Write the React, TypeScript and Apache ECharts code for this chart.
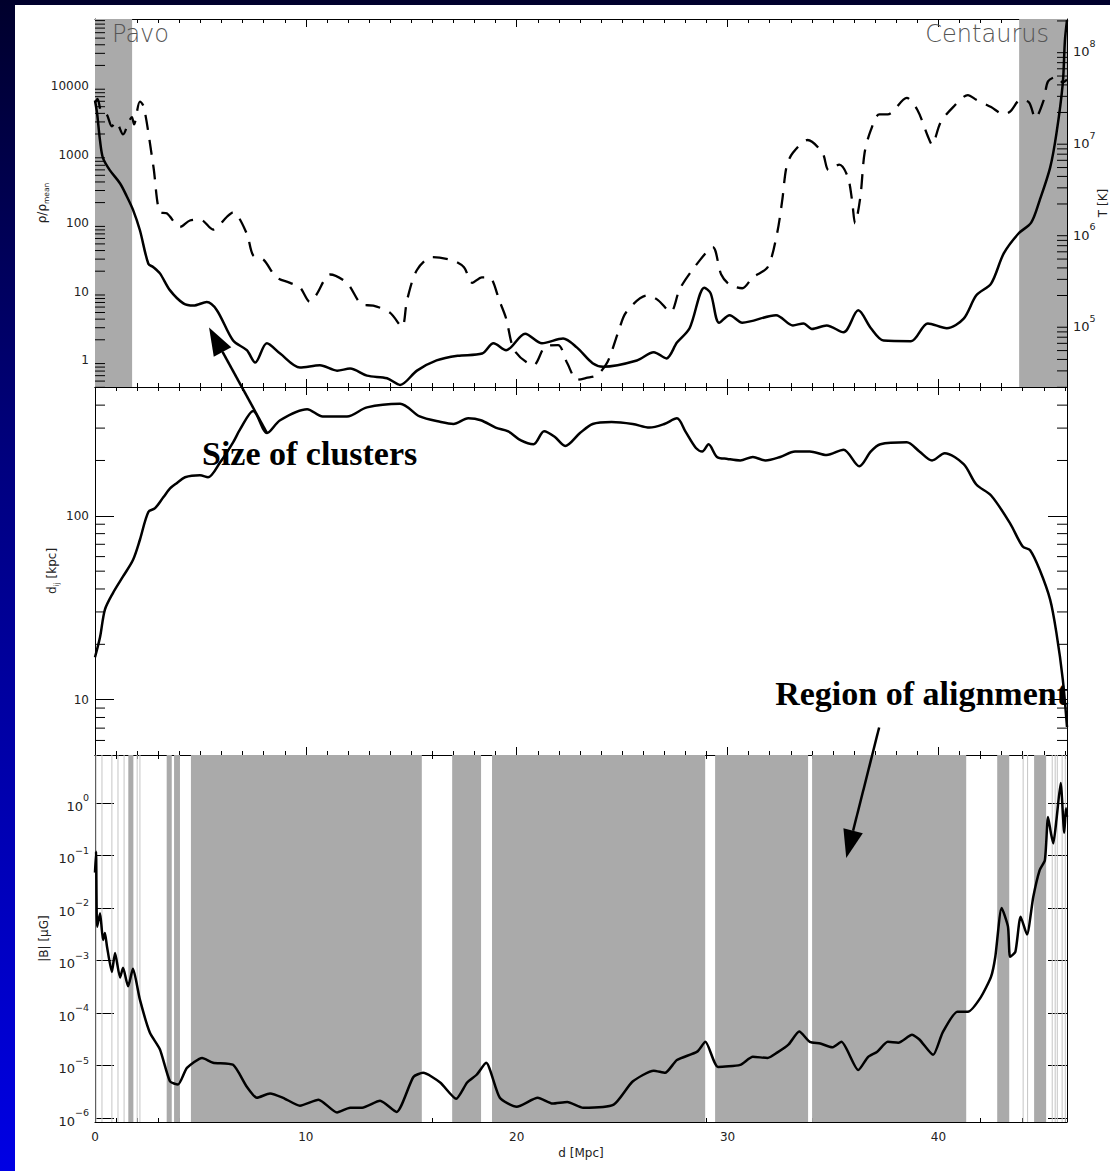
import React, { useEffect, useRef } from "react";
import * as echarts from "echarts";

// ---------- data ----------
const X_MAX = 46.1;
const xLabelStep = 10;

const densityD = [0,0.1,0.24,0.38,0.71,1.19,1.5,1.8,2.13,2.53,2.77,3.08,3.56,4.19,4.67,5.3,5.78,6.55,7.2,7.6,8.15,8.78,9.72,10.67,11.48,12.1,12.9,13.85,14.47,15.27,16.2,17.2,18.36,18.9,19.5,20.4,21.2,22.2,22.85,23.6,24.1,25.7,26.5,27.1,27.6,28.2,28.9,29.2,29.6,30.1,30.7,32.3,33.1,33.6,34.0,34.7,35.5,36.2,36.8,37.4,38.7,39.5,40.4,41.2,41.8,42.5,43.1,43.8,44.4,44.8,45.3,45.6,45.9,46.0,46.1];
const densityVal = [6170,3980,1585,890,590,380,250,158,79,25.7,22.9,18.6,10.5,6.8,6.3,7.1,5.4,1.95,1.41,0.93,1.78,1.26,0.79,0.85,0.71,0.76,0.6,0.55,0.44,0.71,1.0,1.17,1.26,1.78,1.41,2.45,1.78,2.09,1.55,0.91,0.81,1.0,1.32,1.07,1.82,2.95,11.5,9.5,3.55,4.57,3.55,4.57,3.24,3.47,2.88,3.24,2.57,5.37,2.95,1.95,1.91,3.47,2.95,4.07,8.9,13.2,36.3,70.8,102,214,646,2040,10960,45700,91200];

const tempD = [0,0.12,0.3,0.55,0.8,1.0,1.33,1.6,1.75,1.85,2.13,2.32,2.77,3.08,3.4,4.03,4.5,5.0,5.6,6.26,6.55,7.2,7.5,8.0,8.6,9.25,9.72,10.2,10.5,11.15,11.95,12.7,13.2,14.0,14.56,14.8,15.27,16.0,17.0,17.5,17.9,18.35,18.7,19.2,19.5,19.9,20.8,21.35,21.96,22.4,22.87,23.3,23.8,24.3,24.8,25.2,26.2,26.7,27.3,27.75,28.7,29.3,29.7,30.1,30.7,31.2,31.9,32.35,32.6,32.8,33.1,33.8,34.5,34.8,35.3,35.7,35.9,36.05,36.3,36.5,36.8,37.2,37.6,38.5,39.0,39.5,39.7,40.1,40.7,41.4,41.8,42.5,43.1,43.4,43.9,44.3,44.6,45.0,45.2,45.6,45.9,46.1];
const tempVal = [2.57e7,2.82e7,2.0e7,1.91e7,1.41e7,1.58e7,1.15e7,1.58e7,1.78e7,1.48e7,2.63e7,2.29e7,5.13e6,1.62e6,1.58e6,1.12e6,1.32e6,1.35e6,1.05e6,1.45e6,1.62e6,9.5e5,5.5e5,4.9e5,3.16e5,2.75e5,2.45e5,1.7e5,2.04e5,3.39e5,2.75e5,1.58e5,1.55e5,1.29e5,9.1e4,1.78e5,3.8e5,5.25e5,4.8e5,4.07e5,2.75e5,3.16e5,3.16e5,1.7e5,1.12e5,5.0e4,3.47e4,5.5e4,5.75e4,3.63e4,2.4e4,2.51e4,2.69e4,3.72e4,7.76e4,1.32e5,2.0e5,1.78e5,1.32e5,2.4e5,4.9e5,6.76e5,3.39e5,2.63e5,2.4e5,3.16e5,4.07e5,9.55e5,2.24e6,5.13e6,7.24e6,1.0e7,7.24e6,4.68e6,5.37e6,3.98e6,2.24e6,1.23e6,2.4e6,7.24e6,1.29e7,1.91e7,1.91e7,2.88e7,2.14e7,1.1e7,8.9e6,1.55e7,2.29e7,3.09e7,2.75e7,2.29e7,1.91e7,2.04e7,2.75e7,2.57e7,1.74e7,2.75e7,4.37e7,4.9e7,4.27e7,4.57e7];

const sizeD = [0,0.24,0.47,0.85,1.33,1.8,2.13,2.53,2.85,3.24,3.56,3.89,4.27,4.98,5.36,5.93,6.55,6.88,7.5,8.16,8.78,10.06,10.8,11.95,12.9,14.47,15.4,16.4,17.0,17.7,18.3,19.0,19.6,20.2,20.8,21.3,21.8,22.3,23.0,23.6,24.5,25.5,26.3,27.0,27.6,28.0,28.5,28.8,29.1,29.5,30.0,30.6,31.2,31.8,32.5,33.2,33.9,34.7,35.5,36.25,36.8,37.25,38.5,39.1,39.7,40.3,41.2,41.8,42.5,43.4,44.0,44.35,44.8,45.3,45.6,45.9,46.1];
const sizeVal = [17.0,21.9,30.9,38.0,46.8,57.5,74.1,105,110,126,141,151,162,166,162,195,251,295,372,282,331,380,347,347,389,407,347,324,316,339,331,302,288,257,245,288,269,240,282,316,324,316,302,316,339,288,234,224,245,209,204,200,209,200,209,224,224,214,229,186,224,245,251,224,200,219,191,148,129,91,68,65,51,35,23,12.9,7.1];

const fieldD = [0,0.05,0.1,0.24,0.38,0.47,0.57,0.8,0.95,1.19,1.33,1.57,1.8,2.13,2.6,3.08,3.56,3.94,4.36,5.08,5.6,6.55,7.2,7.68,8.3,8.92,9.72,10.6,11.48,12.1,12.67,13.52,14.3,15.1,15.56,16.37,17.13,17.65,18.1,18.55,19.2,20.0,21.0,21.7,22.4,23.15,24.6,25.5,26.5,27.04,27.6,28.56,28.95,29.55,30.6,31.2,31.9,32.35,32.9,33.4,33.9,34.4,34.96,35.4,36.2,36.67,37.1,37.6,38.1,38.75,39.1,39.75,40.2,40.9,41.4,42.0,42.5,42.7,43.0,43.3,43.4,43.65,43.9,44.2,44.5,44.8,45.05,45.2,45.35,45.45,45.6,45.8,45.97,46.05,46.1];
const fieldVal = [0.047,0.117,0.00437,0.00794,0.00245,0.00331,0.00182,6.0e-4,1.38e-3,4.7e-4,7.2e-4,3.2e-4,6.9e-4,1.78e-4,4.2e-5,2.0e-5,4.9e-6,4.3e-6,8.9e-6,1.38e-5,1.12e-5,1.02e-5,3.9e-6,2.4e-6,2.9e-6,2.4e-6,1.7e-6,2.2e-6,1.26e-6,1.55e-6,1.55e-6,2.1e-6,1.29e-6,6.0e-6,7.2e-6,4.7e-6,2.3e-6,4.7e-6,6.6e-6,1.12e-5,2.4e-6,1.62e-6,2.4e-6,1.86e-6,2.0e-6,1.55e-6,1.78e-6,4.9e-6,7.9e-6,7.2e-6,1.26e-5,1.82e-5,2.8e-5,9.3e-6,1.02e-5,1.45e-5,1.38e-5,1.74e-5,2.5e-5,4.4e-5,2.8e-5,2.6e-5,2.2e-5,2.8e-5,8.1e-6,1.45e-5,1.82e-5,2.8e-5,2.7e-5,3.8e-5,3.1e-5,1.58e-5,4.2e-5,1.05e-4,1.05e-4,1.95e-4,4.9e-4,1.17e-3,1.0e-2,4.4e-3,1.17e-3,1.45e-3,6.8e-3,3.1e-3,0.0162,0.052,0.081,0.54,0.25,0.17,0.48,2.4,0.27,0.79,0.54];

// shaded regions (Mpc)
const clusterBands = [[0, 1.76], [43.83, 46.1]];
const alignBands = [[1.58,1.82],[3.40,3.64],[3.75,4.03],[4.55,15.5],[16.94,18.31],[18.83,28.94],[29.41,33.82],[34.01,41.32],[42.79,43.36],[44.54,45.11]];
const alignLines = [0.05,0.33,0.8,1.09,1.38,2.0,2.13,44.02,44.23,45.4,45.54,45.64,45.87,46.02];

// axis ranges
const rhoRange = [0.41, 95000];
const tempRange = [2.0e4, 2.1e8];
const sizeRange = [5.0, 502];
const fieldRange = [8.3e-7, 8.2];

// annotations (data coordinates)
const clusterArrow = { tail: [8.16, 282], tip: [5.41, 3.03] };
const alignArrow = { tail: [37.19, 7.05], tip: [35.63, 0.0896] };

// ---------- helpers ----------
const zip = (xs: number[], ys: number[]) => xs.map((x, i) => [x, ys[i]]);

function minorValues(range: number[]) {
  const out: number[] = [];
  const k0 = Math.floor(Math.log10(range[0]));
  const k1 = Math.ceil(Math.log10(range[1]));
  for (let k = k0; k <= k1; k++) {
    for (let m = 2; m <= 9; m++) {
      const v = m * Math.pow(10, k);
      if (v > range[0] && v < range[1]) out.push(v);
    }
  }
  return out;
}

const FONT = "DejaVu Sans";
const LABEL_COLOR = "#222";

const plainLabel = (v: number) => {
  const e = Math.round(Math.log10(v));
  return String(Math.pow(10, e));
};
const powLabel = (v: number) => {
  const e = Math.round(Math.log10(v));
  return `{b|10}{s|${e < 0 ? "\u2212" + -e : e}}`;
};
const powRich = {
  b: { fontSize: 13, lineHeight: 20, verticalAlign: "bottom", color: LABEL_COLOR, fontFamily: FONT },
  s: { fontSize: 9.5, lineHeight: 10, verticalAlign: "top", color: LABEL_COLOR, fontFamily: FONT },
};

function xAxisDef(gridIndex: number, position: string, labels: boolean) {
  return {
    type: "value",
    gridIndex,
    position,
    min: 0,
    max: X_MAX,
    interval: xLabelStep,
    axisLine: { show: true, onZero: false, lineStyle: { color: "#000", width: 1 } },
    axisTick: { show: true, inside: true, length: 8, lineStyle: { color: "#000", width: 1 } },
    minorTick: { show: true, splitNumber: 10, length: 4, lineStyle: { color: "#000", width: 1 } },
    splitLine: { show: false },
    minorSplitLine: { show: false },
    axisLabel: {
      show: labels,
      margin: 9,
      fontSize: 12,
      color: LABEL_COLOR,
      fontFamily: FONT,
      showMaxLabel: false,
    },
    name: labels ? "d [Mpc]" : "",
    nameLocation: "middle",
    nameGap: 25,
    nameMoveOverlap: false,
    nameTextStyle: { fontSize: 12, color: LABEL_COLOR, fontFamily: FONT },
  };
}

function yAxisDef(gridIndex: number, position: string, range: number[], label: any, name: any, nameGap: number, rich: any) {
  return {
    type: "log",
    logBase: 10,
    gridIndex,
    position,
    min: range[0],
    max: range[1],
    axisLine: { show: true, onZero: false, lineStyle: { color: "#000", width: 1 } },
    axisTick: { show: true, inside: true, length: 19, lineStyle: { color: "#000", width: 1 } },
    splitLine: { show: false },
    axisLabel: label
      ? {
          show: true,
          formatter: label,
          margin: 6,
          fontSize: 12,
          color: LABEL_COLOR,
          fontFamily: FONT,
          showMinLabel: false,
          showMaxLabel: false,
          rich: powRich,
        }
      : { show: false },
    name: name || "",
    nameLocation: "middle",
    nameRotate: 90,
    nameGap,
    nameMoveOverlap: false,
    nameTextStyle: { fontSize: 12, color: LABEL_COLOR, fontFamily: FONT, rich },
  };
}

function tickSeries(xIdx: number, yIdx: number, values: number[], xPos: number, dir: number, len: number) {
  return {
    type: "custom",
    xAxisIndex: xIdx,
    yAxisIndex: yIdx,
    silent: true,
    z: 4,
    data: values.map((v) => [xPos, v]),
    renderItem: (params: any, api: any) => {
      const p = api.coord([api.value(0), api.value(1)]);
      return {
        type: "line",
        shape: { x1: p[0], y1: p[1], x2: p[0] + dir * len, y2: p[1] },
        style: { stroke: "#000", lineWidth: 1 },
      };
    },
  };
}

const GRAY = "#aaaaaa";

function buildOption() {
  const subRich = {
    a: { fontSize: 12, color: LABEL_COLOR, fontFamily: FONT, lineHeight: 16 },
    sub: { fontSize: 7.5, color: LABEL_COLOR, fontFamily: FONT, lineHeight: 8, verticalAlign: "bottom" },
  };
  const rhoMinor = minorValues(rhoRange);
  const tMinor = minorValues(tempRange);
  const sizeMinor = minorValues(sizeRange);

  return {
    animation: false,
    backgroundColor: "#ffffff",
    textStyle: { fontFamily: FONT },
    grid: [
      { left: 80, width: 972, top: 14, height: 368, outerBoundsMode: "none" },
      { left: 80, width: 972, top: 382, height: 368, outerBoundsMode: "none" },
      { left: 80, width: 972, top: 750, height: 367, outerBoundsMode: "none" },
    ],
    xAxis: [
      xAxisDef(0, "bottom", false),
      xAxisDef(0, "top", false),
      xAxisDef(1, "bottom", false),
      xAxisDef(1, "top", false),
      xAxisDef(2, "bottom", true),
      xAxisDef(2, "top", false),
    ],
    yAxis: [
      yAxisDef(0, "left", rhoRange, plainLabel, "{a|\u03c1/\u03c1}{sub|mean}", 45, subRich),
      yAxisDef(0, "right", tempRange, powLabel, "T [K]", 30, subRich),
      yAxisDef(1, "left", sizeRange, plainLabel, "{a|d}{sub|ij}{a| [kpc]}", 35, subRich),
      yAxisDef(1, "right", sizeRange, null, "", 0, subRich),
      yAxisDef(2, "left", fieldRange, powLabel, "|B| [\u03bcG]", 45, subRich),
      yAxisDef(2, "right", fieldRange, null, "", 0, subRich),
    ],
    series: [
      {
        name: "density",
        type: "line",
        xAxisIndex: 0,
        yAxisIndex: 0,
        data: zip(densityD, densityVal),
        showSymbol: false,
        smooth: 0.3,
        lineStyle: { color: "#000", width: 2.5 },
        z: 3,
        markArea: {
          silent: true,
          label: { show: false },
          itemStyle: { color: GRAY },
          data: clusterBands.map((b) => [{ xAxis: b[0] }, { xAxis: b[1] }]),
        },
      },
      {
        name: "temperature",
        type: "line",
        xAxisIndex: 0,
        yAxisIndex: 1,
        data: zip(tempD, tempVal),
        showSymbol: false,
        smooth: 0.3,
        lineStyle: { color: "#000", width: 2.3, type: [15, 10] },
        z: 3,
      },
      {
        name: "size",
        type: "line",
        xAxisIndex: 2,
        yAxisIndex: 2,
        data: zip(sizeD, sizeVal),
        showSymbol: false,
        smooth: 0.3,
        lineStyle: { color: "#000", width: 2.5 },
        z: 3,
      },
      {
        name: "field",
        type: "line",
        xAxisIndex: 4,
        yAxisIndex: 4,
        data: zip(fieldD, fieldVal),
        showSymbol: false,
        smooth: 0.2,
        lineStyle: { color: "#000", width: 2.5 },
        z: 3,
        markArea: {
          silent: true,
          label: { show: false },
          itemStyle: { color: GRAY },
          data: [
            ...alignLines.map((v) => [
              { xAxis: v - 0.025, itemStyle: { color: "#c8c8c8" } },
              { xAxis: v + 0.025 },
            ]),
            ...alignBands.map((b) => [{ xAxis: b[0] }, { xAxis: b[1] }]),
          ],
        },
      },
      tickSeries(0, 0, rhoMinor, 0, 1, 10),
      tickSeries(0, 1, tMinor, X_MAX, -1, 10),
      tickSeries(2, 2, sizeMinor, 0, 1, 10),
      tickSeries(2, 3, sizeMinor, X_MAX, -1, 10),
    ],
  };
}

function arrowElements(tail: number[], tip: number[]) {
  const dx = tip[0] - tail[0];
  const dy = tip[1] - tail[1];
  const len = Math.sqrt(dx * dx + dy * dy) || 1;
  const ux = dx / len;
  const uy = dy / len;
  const headL = 28;
  const headW = 10;
  const bx = tip[0] - ux * headL;
  const by = tip[1] - uy * headL;
  const nx = -uy;
  const ny = ux;
  return [
    {
      type: "line",
      z: 100,
      silent: true,
      shape: { x1: tail[0], y1: tail[1], x2: bx, y2: by },
      style: { stroke: "#000", lineWidth: 2.5 },
    },
    {
      type: "polygon",
      z: 100,
      silent: true,
      shape: {
        points: [
          [tip[0], tip[1]],
          [bx + nx * headW, by + ny * headW],
          [bx - nx * headW, by - ny * headW],
        ],
      },
      style: { fill: "#000" },
    },
  ];
}

export default function App() {
  const ref = useRef<HTMLDivElement>(null);
  useEffect(() => {
    const el = ref.current;
    if (!el) return;
    const chart = echarts.init(el, null, { renderer: "svg" });
    chart.setOption(buildOption() as any);

    const toPx = (xi: number, yi: number, pt: number[]) =>
      chart.convertToPixel({ xAxisIndex: xi, yAxisIndex: yi } as any, pt) as unknown as number[];

    const a1Tail = toPx(2, 2, clusterArrow.tail);
    const a1Tip = toPx(0, 0, clusterArrow.tip);
    const a2Tail = toPx(2, 2, alignArrow.tail);
    const a2Tip = toPx(4, 4, alignArrow.tip);

    const serif = '"Liberation Serif", "Times New Roman", serif';
    const thin = '"DejaVu Sans ExtraLight", "DejaVu Sans", sans-serif';

    chart.setOption({
      graphic: [
        ...arrowElements(a1Tail, a1Tip),
        ...arrowElements(a2Tail, a2Tip),
        {
          type: "text",
          z: 100,
          silent: true,
          x: 187,
          y: 448,
          style: { text: "Size of clusters", font: `bold 34px ${serif}`, fill: "#000", align: "left", verticalAlign: "middle" },
        },
        {
          type: "text",
          z: 100,
          silent: true,
          x: 1053,
          y: 688,
          style: { text: "Region of alignment", font: `bold 34px ${serif}`, fill: "#000", align: "right", verticalAlign: "middle" },
        },
        {
          type: "text",
          z: 100,
          silent: true,
          x: 97,
          y: 29,
          style: { text: "Pavo", font: `200 24px ${thin}`, fill: "#555", align: "left", verticalAlign: "middle" },
        },
        {
          type: "text",
          z: 100,
          silent: true,
          x: 1034,
          y: 29,
          style: { text: "Centaurus", font: `200 24px ${thin}`, fill: "#555", align: "right", verticalAlign: "middle" },
        },
      ],
    } as any);

    return () => chart.dispose();
  }, []);

  return (
    <div
      style={{
        position: "absolute",
        left: 0,
        top: 0,
        width: 1110,
        height: 1171,
        background: "linear-gradient(to bottom, #00002c 0%, #000080 40%, #0000e4 100%)",
      }}
    >
      <div ref={ref} style={{ position: "absolute", left: 15, top: 5, width: 1095, height: 1166 }} />
    </div>
  );
}
